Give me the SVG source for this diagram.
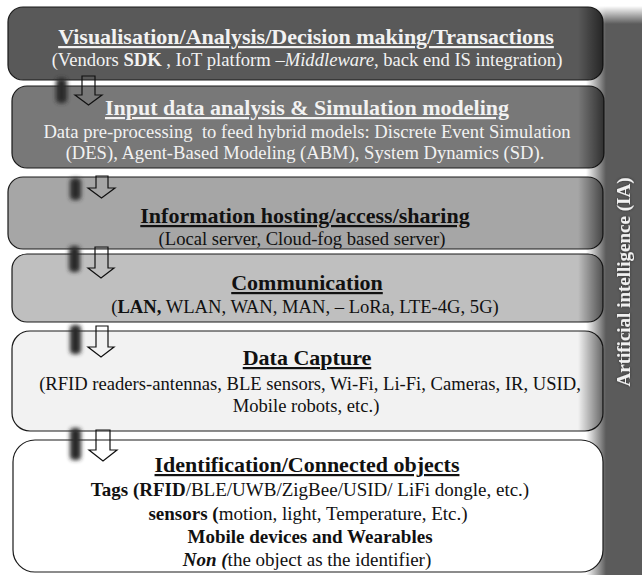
<svg xmlns="http://www.w3.org/2000/svg" width="642" height="575" viewBox="0 0 642 575">
<defs>
<style>
text{font-family:"Liberation Serif","Times New Roman",serif;text-anchor:middle}
.t{font-size:22px;font-weight:bold;text-decoration:underline}
.s{font-size:18.6px}
.s6{font-size:19px}
.b{font-weight:bold}
.i{font-style:italic}
.lt{fill:#f2f2f2}
.dk{fill:#111}
.box{stroke:#1a1a1a;stroke-width:1.2}
.shade{fill:url(#shade);stroke:none}
.arr{fill:none;stroke:#111;stroke-width:1.2}
.blur{fill:#2b2b2b;filter:url(#bl)}
</style>
<linearGradient id="shade" gradientUnits="userSpaceOnUse" x1="578" y1="0" x2="604" y2="0">
<stop offset="0" stop-color="#000" stop-opacity="0"/>
<stop offset="1" stop-color="#000" stop-opacity="0.6"/>
</linearGradient>
<linearGradient id="barH" gradientUnits="userSpaceOnUse" x1="586" y1="0" x2="606" y2="0">
<stop offset="0" stop-color="#fff"/>
<stop offset="1" stop-color="#5b5b5b"/>
</linearGradient>
<linearGradient id="barV" gradientUnits="userSpaceOnUse" x1="0" y1="6" x2="0" y2="24">
<stop offset="0" stop-color="#fff" stop-opacity="1"/>
<stop offset="1" stop-color="#fff" stop-opacity="0"/>
</linearGradient>
<filter id="bl" x="-100%" y="-50%" width="300%" height="200%"><feGaussianBlur stdDeviation="2.2"/></filter>
<filter id="glow" x="-10%" y="-30%" width="120%" height="160%"><feGaussianBlur in="SourceAlpha" stdDeviation="1.5" result="b"/><feFlood flood-color="#000" flood-opacity="0.5"/><feComposite in2="b" operator="in"/><feMerge><feMergeNode/><feMergeNode in="SourceGraphic"/></feMerge></filter>
</defs>
<rect width="642" height="575" fill="#fff"/>
<g id="ai-bar">
<rect x="586" y="6" width="56" height="569" fill="url(#barH)"/>
<rect x="586" y="6" width="56" height="20" fill="url(#barV)"/>
<text x="630" y="282" transform="rotate(-90 630 282)" font-size="19" font-weight="bold" fill="#f0f0f0" filter="url(#glow)">Artificial intelligence (IA)</text>
</g>
<g id="visualisation">
<rect class="box" x="8" y="7" width="595" height="73" rx="15" fill="#595959"/>
<rect class="shade" x="8" y="7" width="595" height="73" rx="15"/>
<text class="t lt" x="306" y="44">Visualisation/Analysis/Decision making/Transactions</text>
<text class="s lt" x="307" y="66" font-size="18.9">(Vendors <tspan class="b">SDK</tspan> , IoT platform –<tspan class="i">Middleware</tspan>, back end IS integration)</text>
</g>
<g id="input-analysis">
<rect class="box" x="12" y="86" width="592" height="82" rx="15" fill="#787878"/>
<rect class="shade" x="12" y="86" width="592" height="82" rx="15"/>
<text class="t lt" x="307" y="115">Input data analysis &amp; Simulation modeling</text>
<text class="s lt" x="307" y="138" xml:space="preserve">Data pre-processing  to feed hybrid models: Discrete Event Simulation</text>
<text class="s lt" x="305" y="159">(DES), Agent-Based Modeling (ABM), System Dynamics (SD).</text>
</g>
<g id="information-hosting">
<rect class="box" x="8" y="177" width="595" height="72" rx="15" fill="#a6a6a6"/>
<rect class="shade" x="8" y="177" width="595" height="72" rx="15"/>
<text class="t dk" x="305" y="223">Information hosting/access/sharing</text>
<text class="s dk" x="302" y="245">(Local server, Cloud-fog based server)</text>
</g>
<g id="communication">
<rect class="box" x="12" y="254" width="591" height="68" rx="15" fill="#bfbfbf"/>
<rect class="shade" x="12" y="254" width="591" height="68" rx="15"/>
<text class="t dk" x="307" y="290">Communication</text>
<text class="s dk" x="305" y="313">(<tspan class="b">LAN,</tspan> WLAN, WAN, MAN, – LoRa, LTE-4G, 5G)</text>
</g>
<g id="data-capture">
<rect class="box" x="12" y="331" width="591" height="100" rx="18" fill="#f2f2f2"/>
<rect class="shade" x="12" y="331" width="591" height="100" rx="18"/>
<text class="t dk" x="307" y="365">Data Capture</text>
<text class="s dk" x="310" y="390">(RFID readers-antennas, BLE sensors, Wi-Fi, Li-Fi, Cameras, IR, USID,</text>
<text class="s dk" x="306" y="412">Mobile robots, etc.)</text>
</g>
<g id="identification">
<rect class="box" x="13" y="440" width="590" height="132" rx="22" fill="#fff"/>
<text class="t dk" x="307" y="472">Identification/Connected objects</text>
<text class="s6 dk" x="310" y="496"><tspan class="b">Tags (RFID</tspan>/BLE/UWB/ZigBee/USID/ LiFi dongle, etc.)</text>
<text class="s6 dk" x="308" y="520"><tspan class="b">sensors (</tspan>motion, light, Temperature, Etc.)</text>
<text class="s6 dk b" x="310" y="543">Mobile devices and Wearables</text>
<text class="s6 dk" x="307" y="566"><tspan class="b i">Non (</tspan>the object as the identifier)</text>
</g>
<g id="connectors">
<rect class="blur" x="56" y="78" width="11" height="25" rx="4"/>
<rect class="blur" x="70" y="178" width="11" height="22" rx="4"/>
<rect class="blur" x="69" y="246" width="11" height="26" rx="4"/>
<rect class="blur" x="70" y="325" width="11" height="29" rx="4"/>
<rect class="blur" x="70" y="428" width="11" height="32" rx="4"/>
<polygon class="arr" points="82,76 95,76 95,95 102,95 88.5,105 75,95 82,95"/>
<polygon class="arr" points="96,176 108,176 108,188 115,188 101.5,198 88,188 96,188"/>
<polygon class="arr" points="95,247 108,247 108,268 114,268 101,278 88,268 95,268"/>
<polygon class="arr" points="96,326 108,326 108,347 114,347 101,357 88,347 96,347"/>
<polygon class="arr" points="96,430 110,430 110,450 117,450 103,461 89,450 96,450"/>
</g>
</svg>
